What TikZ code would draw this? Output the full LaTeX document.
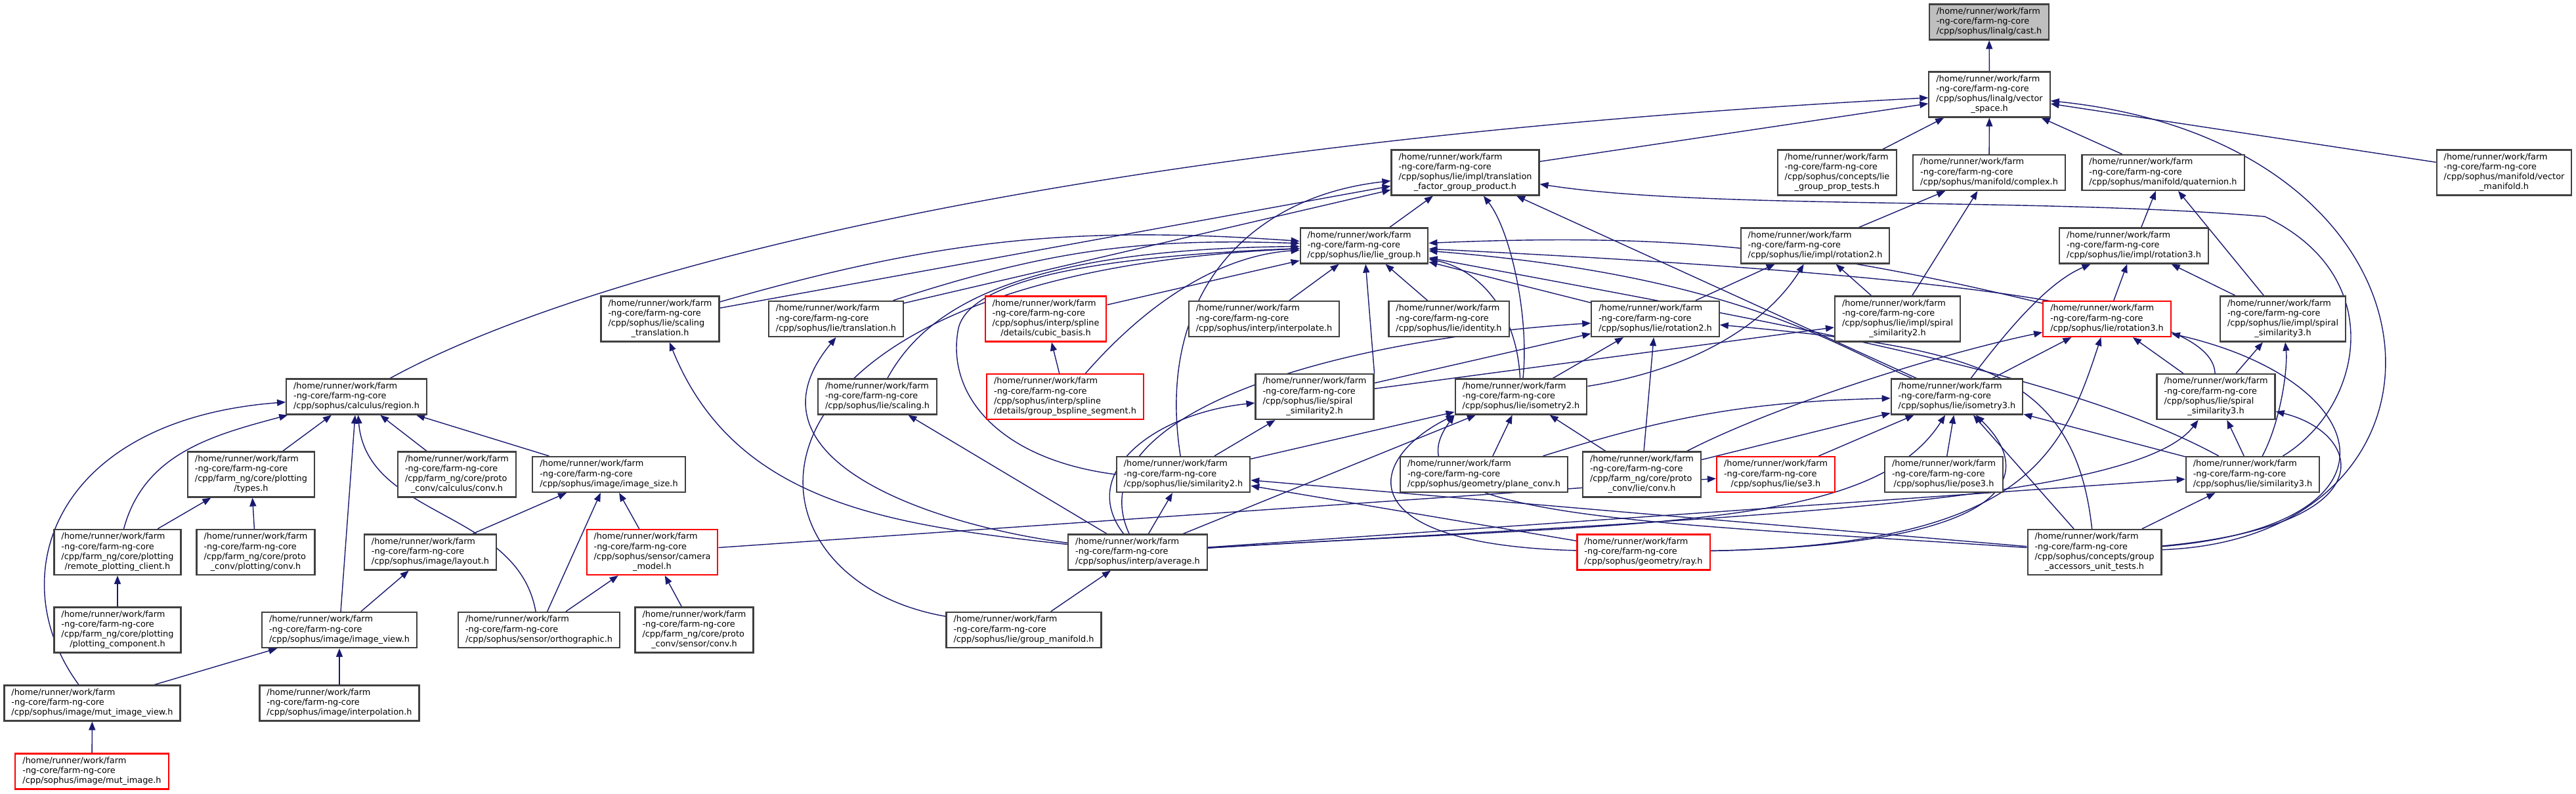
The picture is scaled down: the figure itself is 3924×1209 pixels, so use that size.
\documentclass[tikz,border=0pt]{standalone}
\usepackage{fontspec}
\setmainfont{DejaVu Sans}
\usetikzlibrary{arrows.meta,backgrounds}

\definecolor{incblue}{RGB}{25,25,112}
\definecolor{boxline}{RGB}{64,64,64}

\newcommand{\filefont}{\fontsize{3.66pt}{4.27pt}\selectfont}
\newcommand{\hdr}{/home/runner/work/farm\\-ng-core/farm-ng-core}
\newcommand{\pthree}[1]{\begin{tabular}{@{}l@{}}\hdr\\\multicolumn{1}{@{}c@{}}{#1}\end{tabular}}
\newcommand{\pfour}[2]{\begin{tabular}{@{}l@{}}\hdr\\#1\\\multicolumn{1}{@{}c@{}}{#2}\end{tabular}}

\tikzset{
  file/.style={draw=boxline, fill=white, line width=0.6pt, inner xsep=0.11cm, inner ysep=0.045cm, font=\filefont},
  trunc/.style={file, draw=red},
  focus/.style={file, fill=black!25},
  inc/.style={draw=incblue, line width=0.4pt, -{Triangle[length=0.13cm,width=0.1cm]}}
}

\begin{document}
\begin{tikzpicture}[x=0.01cm, y=0.01cm]
  \useasboundingbox (0,0) rectangle (3924,-1209);

  % ---------------- files, rank by rank ----------------
  \node[focus] (cast) at (3030,-33.5) {\pthree{/cpp/sophus/linalg/cast.h}};
  \node[file] (vspace) at (3030.5,-144) {\pfour{/cpp/sophus/linalg/vector}{\_space.h}};

  \node[file] (tfgp) at (2232,-263) {\pfour{/cpp/sophus/lie/impl/translation}{\_factor\_group\_product.h}};
  \node[file] (lgpt) at (2798.5,-263) {\pfour{/cpp/sophus/concepts/lie}{\_group\_prop\_tests.h}};
  \node[file] (cplx) at (3030,-263) {\pthree{/cpp/sophus/manifold/complex.h}};
  \node[file] (quat) at (3295,-263) {\pthree{/cpp/sophus/manifold/quaternion.h}};
  \node[file] (vmani) at (3814.5,-263) {\pfour{/cpp/sophus/manifold/vector}{\_manifold.h}};

  \node[file] (liegrp) at (2078,-374.5) {\pthree{/cpp/sophus/lie/lie\_group.h}};
  \node[file] (irot2) at (2765,-374.5) {\pthree{/cpp/sophus/lie/impl/rotation2.h}};
  \node[file] (irot3) at (3250.5,-374.5) {\pthree{/cpp/sophus/lie/impl/rotation3.h}};

  \node[file] (sctrans) at (1005.5,-486) {\pfour{/cpp/sophus/lie/scaling}{\_translation.h}};
  \node[file] (trans) at (1273.5,-486) {\pthree{/cpp/sophus/lie/translation.h}};
  \node[trunc] (cubic) at (1593,-486) {\pfour{/cpp/sophus/interp/spline}{/details/cubic\_basis.h}};
  \node[file] (interp) at (1925.5,-486) {\pthree{/cpp/sophus/interp/interpolate.h}};
  \node[file] (ident) at (2207,-486) {\pthree{/cpp/sophus/lie/identity.h}};
  \node[file] (rot2) at (2521.5,-486) {\pthree{/cpp/sophus/lie/rotation2.h}};
  \node[file] (ispsim2) at (2890.5,-486) {\pfour{/cpp/sophus/lie/impl/spiral}{\_similarity2.h}};
  \node[trunc] (rot3) at (3209.5,-486) {\pthree{/cpp/sophus/lie/rotation3.h}};
  \node[file] (ispsim3) at (3477.5,-486) {\pfour{/cpp/sophus/lie/impl/spiral}{\_similarity3.h}};

  \node[file] (region) at (543,-604.5) {\pthree{/cpp/sophus/calculus/region.h}};
  \node[file] (scaling) at (1336.5,-604.5) {\pthree{/cpp/sophus/lie/scaling.h}};
  \node[trunc] (bspline) at (1622.5,-604.5) {\pfour{/cpp/sophus/interp/spline}{/details/group\_bspline\_segment.h}};
  \node[file] (spsim2) at (2002.5,-604.5) {\pfour{/cpp/sophus/lie/spiral}{\_similarity2.h}};
  \node[file] (iso2) at (2317,-604.5) {\pthree{/cpp/sophus/lie/isometry2.h}};
  \node[file] (iso3) at (2981,-604.5) {\pthree{/cpp/sophus/lie/isometry3.h}};
  \node[file] (spsim3) at (3375.5,-604.5) {\pfour{/cpp/sophus/lie/spiral}{\_similarity3.h}};

  \node[file] (ptypes) at (382.5,-723) {\pfour{/cpp/farm\_ng/core/plotting}{/types.h}};
  \node[file] (calcconv) at (696,-723) {\pfour{/cpp/farm\_ng/core/proto}{\_conv/calculus/conv.h}};
  \node[file] (imsize) at (927.5,-723) {\pthree{/cpp/sophus/image/image\_size.h}};
  \node[file] (sim2) at (1802.5,-723) {\pthree{/cpp/sophus/lie/similarity2.h}};
  \node[file] (planeconv) at (2260.5,-723) {\pthree{/cpp/sophus/geometry/plane\_conv.h}};
  \node[file] (lieconv) at (2501,-723) {\pfour{/cpp/farm\_ng/core/proto}{\_conv/lie/conv.h}};
  \node[trunc] (se3) at (2705,-723) {\pthree{/cpp/sophus/lie/se3.h}};
  \node[file] (pose3) at (2961,-723) {\pthree{/cpp/sophus/lie/pose3.h}};
  \node[file] (sim3) at (3431.5,-723) {\pthree{/cpp/sophus/lie/similarity3.h}};

  \node[file] (rpc) at (179,-841.5) {\pfour{/cpp/farm\_ng/core/plotting}{/remote\_plotting\_client.h}};
  \node[file] (plotconv) at (389.5,-841.5) {\pfour{/cpp/farm\_ng/core/proto}{\_conv/plotting/conv.h}};
  \node[file] (layout) at (655.5,-841.5) {\pthree{/cpp/sophus/image/layout.h}};
  \node[trunc] (cammodel) at (993.5,-841.5) {\pfour{/cpp/sophus/sensor/camera}{\_model.h}};
  \node[file] (average) at (1733,-841.5) {\pthree{/cpp/sophus/interp/average.h}};
  \node[trunc] (ray) at (2503.5,-841.5) {\pthree{/cpp/sophus/geometry/ray.h}};
  \node[file] (gaut) at (3190.5,-841.5) {\pfour{/cpp/sophus/concepts/group}{\_accessors\_unit\_tests.h}};

  \node[file] (pcomp) at (179,-960) {\pfour{/cpp/farm\_ng/core/plotting}{/plotting\_component.h}};
  \node[file] (imview) at (517,-960) {\pthree{/cpp/sophus/image/image\_view.h}};
  \node[file] (ortho) at (821,-960) {\pthree{/cpp/sophus/sensor/orthographic.h}};
  \node[file] (sensconv) at (1057.5,-960) {\pfour{/cpp/farm\_ng/core/proto}{\_conv/sensor/conv.h}};
  \node[file] (grpmani) at (1559.5,-960) {\pthree{/cpp/sophus/lie/group\_manifold.h}};

  \node[file] (mutview) at (140.5,-1071.5) {\pthree{/cpp/sophus/image/mut\_image\_view.h}};
  \node[file] (interpol) at (517,-1071.5) {\pthree{/cpp/sophus/image/interpolation.h}};

  \node[trunc] (mutimg) at (140,-1175.5) {\pthree{/cpp/sophus/image/mut\_image.h}};

  \begin{scope}[on background layer]
    % ---------------- linalg and manifold ----------------
    \draw[inc] (vspace) -- (cast);
    \draw[inc] (region) .. controls (880,-420) and (1600,-220) .. (vspace);
    \draw[inc] (tfgp) -- (vspace);
    \draw[inc] (lgpt) -- (vspace);
    \draw[inc] (cplx) -- (vspace);
    \draw[inc] (quat) -- (vspace);
    \draw[inc] (vmani) -- (vspace);
    \draw[inc] (gaut) .. controls (3780,-820) and (3760,-220) .. (vspace);
    \draw[inc] (irot2) -- (cplx);
    \draw[inc] (ispsim2) -- (cplx);
    \draw[inc] (irot3) -- (quat);
    \draw[inc] (ispsim3) -- (quat);

    % ---------------- translation factor group product ----------------
    \draw[inc] (liegrp) -- (tfgp);
    \draw[inc] (sctrans) -- (tfgp);
    \draw[inc] (trans) -- (tfgp);
    \draw[inc] (sim2) .. controls (1760,-450) and (1900,-300) .. (tfgp);
    \draw[inc] (iso2) .. controls (2330,-480) and (2300,-350) .. (tfgp);
    \draw[inc] (iso3) -- (tfgp);
    \draw[inc] (sim3) .. controls (3600,-620) and (3640,-420) .. (3450,-330)
      .. controls (3100,-300) and (2600,-320) .. (tfgp);

    % ---------------- lie group ----------------
    \draw[inc] (sctrans) to[bend left=10] (liegrp);
    \draw[inc] (trans) to[bend left=10] (liegrp);
    \draw[inc] (cubic) -- (liegrp);
    \draw[inc] (bspline) .. controls (1740,-470) and (1850,-390) .. (liegrp);
    \draw[inc] (scaling) .. controls (1410,-470) and (1550,-380) .. (liegrp);
    \draw[inc] (sim2.west) .. controls (1520,-700) and (1440,-600) .. (1460,-500)
      .. controls (1480,-420) and (1700,-390) .. (liegrp);
    \draw[inc] (interp) -- (liegrp);
    \draw[inc] (ident) -- (liegrp);
    \draw[inc] (rot2) -- (liegrp);
    \draw[inc] (rot3) to[bend right=8] (liegrp);
    \draw[inc] (spsim2.north east) -- (liegrp);
    \draw[inc] (spsim3) .. controls (3370,-470) and (3000,-420) .. (liegrp);
    \draw[inc] (iso2) .. controls (2310,-470) and (2250,-410) .. (liegrp);
    \draw[inc] (iso3) .. controls (2800,-530) and (2650,-420) .. (liegrp);
    \draw[inc] (sim3) .. controls (3150,-570) and (2750,-500) .. (liegrp);
    \draw[inc] (grpmani) .. controls (1100,-880) and (1080,-420) .. (liegrp);

    % ---------------- impl headers ----------------
    \draw[inc] (rot2) -- (irot2);
    \draw[inc] (iso2) .. controls (2600,-560) and (2700,-480) .. (irot2);
    \draw[inc] (ispsim2) -- (irot2);
    \draw[inc] (rot3) -- (irot3);
    \draw[inc] (iso3) .. controls (3060,-500) and (3120,-430) .. (irot3);
    \draw[inc] (ispsim3) -- (irot3);
    \draw[inc] (spsim2) -- (ispsim2);
    \draw[inc] (spsim3) -- (ispsim3);
    \draw[inc] (sim3) .. controls (3475,-640) and (3485,-560) .. (ispsim3);
    \draw[inc] (bspline) -- (cubic);

    % ---------------- rotations ----------------
    \draw[inc] (spsim2) -- (rot2);
    \draw[inc] (iso2) -- (rot2);
    \draw[inc] (lieconv) -- (rot2);
    \draw[inc] (average) .. controls (1640,-640) and (2000,-520) .. (rot2);
    \draw[inc] (gaut) .. controls (3160,-560) and (3000,-530) .. (rot2);
    \draw[inc] (spsim3) -- (rot3);
    \draw[inc] (iso3) -- (rot3);
    \draw[inc] (lieconv) .. controls (2700,-620) and (2950,-540) .. (rot3);
    \draw[inc] (ray) .. controls (3080,-830) and (3140,-700) .. (rot3);
    \draw[inc] (gaut) .. controls (3680,-800) and (3620,-580) .. (rot3);

    % ---------------- scaling, translation, spirals ----------------
    \draw[inc] (average) .. controls (1360,-800) and (1120,-770) .. (sctrans);
    \draw[inc] (average) .. controls (1420,-800) and (1120,-700) .. (trans.south);
    \draw[inc] (average) -- (scaling);
    \draw[inc] (sim2) -- (spsim2);
    \draw[inc] (average) .. controls (1640,-720) and (1760,-630) .. (spsim2);
    \draw[inc] (sim3) -- (spsim3);
    \draw[inc] (average) .. controls (2600,-790) and (3250,-770) .. (spsim3);
    \draw[inc] (gaut) .. controls (3640,-800) and (3600,-660) .. (spsim3);

    % ---------------- isometries and similarities ----------------
    \draw[inc] (planeconv) -- (iso2);
    \draw[inc] (lieconv) -- (iso2);
    \draw[inc] (sim2) -- (iso2);
    \draw[inc] (average) -- (iso2);
    \draw[inc] (ray) .. controls (2050,-830) and (2080,-700) .. (iso2.south west);
    \draw[inc] (gaut) .. controls (2500,-795) and (2100,-790) .. (iso2.south west);
    \draw[inc] (planeconv) to[bend left=8] (iso3);
    \draw[inc] (lieconv) -- (iso3);
    \draw[inc] (se3) -- (iso3);
    \draw[inc] (pose3) -- (iso3);
    \draw[inc] (sim3) -- (iso3);
    \draw[inc] (average) .. controls (2500,-795) and (2850,-810) .. (iso3);
    \draw[inc] (ray) .. controls (3080,-830) and (3100,-720) .. (iso3);
    \draw[inc] (gaut) -- (iso3);
    \draw[inc] (average) -- (sim2);
    \draw[inc] (ray) -- (sim2);
    \draw[inc] (gaut) -- (sim2);
    \draw[inc] (average) -- (sim3);
    \draw[inc] (gaut) -- (sim3);
    \draw[inc] (cammodel) -- (se3);

    % ---------------- calculus, plotting, image, sensor ----------------
    \draw[inc] (ptypes) -- (region);
    \draw[inc] (calcconv) -- (region);
    \draw[inc] (imsize) -- (region);
    \draw[inc] (rpc) to[out=75,in=195] (region);
    \draw[inc] (imview) -- (region);
    \draw[inc] (ortho) to[out=100,in=-85] (region);
    \draw[inc] (mutview) .. controls (0,-880) and (80,-640) .. (region);
    \draw[inc] (rpc) -- (ptypes);
    \draw[inc] (plotconv) -- (ptypes);
    \draw[inc] (layout) -- (imsize);
    \draw[inc] (ortho) -- (imsize);
    \draw[inc] (cammodel) -- (imsize);
    \draw[inc] (imview) -- (layout);
    \draw[inc] (ortho) -- (cammodel);
    \draw[inc] (sensconv) -- (cammodel);
    \draw[inc] (pcomp) -- (rpc);
    \draw[inc] (mutview) -- (imview);
    \draw[inc] (interpol) -- (imview);
    \draw[inc] (mutimg) -- (mutview);
    \draw[inc] (grpmani) -- (average);
  \end{scope}

\end{tikzpicture}
\end{document}
